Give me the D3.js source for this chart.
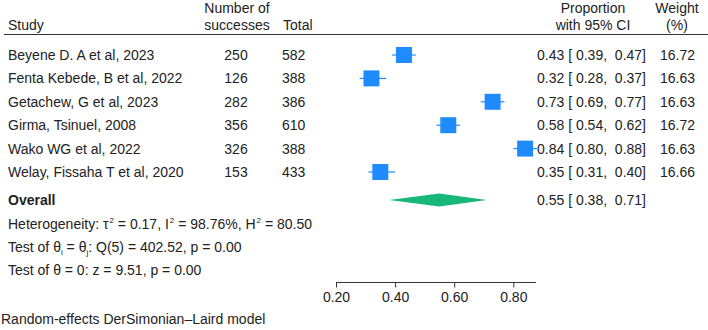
<!DOCTYPE html>
<html>
<head>
<meta charset="utf-8">
<script src="https://cdn.jsdelivr.net/npm/d3@7"></script>
<style>
  body { margin: 0; background: #fff; }
  svg { display: block; font-family: "Liberation Sans", Arial, sans-serif; }
</style>
</head>
<body>
<div id="chart"></div>
<script>
// data
const studies = ["Beyene D. A et al, 2023", "Fenta Kebede, B et al, 2022", "Getachew, G et al, 2023",
                 "Girma, Tsinuel, 2008", "Wako WG et al, 2022", "Welay, Fissaha T et al, 2020"];
const successes = [250, 126, 282, 356, 326, 153];
const totals = [582, 388, 386, 610, 388, 433];
const props = [0.43, 0.32, 0.73, 0.58, 0.84, 0.35];
const lower = [0.39, 0.28, 0.69, 0.54, 0.80, 0.31];
const upper = [0.47, 0.37, 0.77, 0.62, 0.88, 0.40];
const weights = [16.72, 16.63, 16.63, 16.72, 16.63, 16.66];
const overall = {est: 0.55, lo: 0.38, hi: 0.71};
const ticks = [0.2, 0.4, 0.6, 0.8];

const width = 708, height = 330;
const fontSize = 14;
const textColor = "#222";
const boxColor = "#1e8bff";
const diamondColor = "#17b67a";

const svg = d3.select("#chart").append("svg")
    .attr("width", width)
    .attr("height", height)
    .attr("font-size", fontSize)
    .attr("fill", textColor);

// scales
const x = d3.scaleLinear().domain([0.2, 0.8]).range([336, 513.3]);
const y = d3.scaleLinear().domain([0, studies.length - 1]).range([55, 172]);
const size = d3.scaleSqrt().domain([0, d3.max(weights)]).range([0, 16]);

// header
const header = svg.append("g");
header.append("text").attr("x", 8).attr("y", 30).text("Study");
header.append("text").attr("x", 237).attr("y", 12.5).attr("text-anchor", "middle").text("Number of");
header.append("text").attr("x", 237).attr("y", 30).attr("text-anchor", "middle").text("successes");
header.append("text").attr("x", 283).attr("y", 30).text("Total");
header.append("text").attr("x", 593).attr("y", 12.5).attr("text-anchor", "middle").text("Proportion");
header.append("text").attr("x", 593).attr("y", 30).attr("text-anchor", "middle").text("with 95% CI");
header.append("text").attr("x", 677).attr("y", 12.5).attr("text-anchor", "middle").text("Weight");
header.append("text").attr("x", 677).attr("y", 30).attr("text-anchor", "middle").text("(%)");

svg.append("line")
    .attr("x1", 4).attr("x2", width)
    .attr("y1", 34.5).attr("y2", 34.5)
    .attr("stroke", "#333").attr("stroke-width", 1.2);

// study rows
const rows = svg.append("g")
  .selectAll("g")
  .data(studies)
  .join("g")
    .attr("transform", (d, i) => `translate(0,${y(i)})`);

rows.append("text").attr("x", 8).attr("dy", 5).text(d => d);
rows.append("text").attr("x", 236).attr("dy", 5).attr("text-anchor", "middle")
    .text((d, i) => successes[i]);
rows.append("text").attr("x", 282).attr("dy", 5).text((d, i) => totals[i]);
rows.append("text").attr("x", 646).attr("dy", 5).attr("text-anchor", "end")
    .style("white-space", "pre")
    .text((d, i) => `${props[i].toFixed(2)} [ ${lower[i].toFixed(2)},  ${upper[i].toFixed(2)}]`);
rows.append("text").attr("x", 695).attr("dy", 5).attr("text-anchor", "end")
    .text((d, i) => weights[i].toFixed(2));

// CI lines and boxes
rows.append("line")
    .attr("x1", (d, i) => x(lower[i]))
    .attr("x2", (d, i) => x(upper[i]))
    .attr("stroke", boxColor).attr("stroke-width", 1.2);
rows.append("rect")
    .attr("x", (d, i) => x(props[i]) - size(weights[i]) / 2)
    .attr("y", (d, i) => -size(weights[i]) / 2)
    .attr("width", (d, i) => size(weights[i]))
    .attr("height", (d, i) => size(weights[i]))
    .attr("fill", boxColor);

// overall
const yOverall = 200;
svg.append("text").attr("x", 8).attr("y", yOverall + 5)
    .attr("font-weight", "bold").text("Overall");
svg.append("path")
    .attr("d", `M${x(overall.lo)},${yOverall} L${x(overall.est)},${yOverall - 6.5} L${x(overall.hi)},${yOverall} L${x(overall.est)},${yOverall + 6.5} Z`)
    .attr("fill", diamondColor);
svg.append("text").attr("x", 646).attr("y", yOverall + 5).attr("text-anchor", "end")
    .style("white-space", "pre")
    .text(`${overall.est.toFixed(2)} [ ${overall.lo.toFixed(2)},  ${overall.hi.toFixed(2)}]`);

// heterogeneity lines
const sup = 6, sub = 3;
const het = svg.append("text").attr("x", 8).attr("y", 229).style("white-space", "pre");
het.append("tspan").text("Heterogeneity: τ");
het.append("tspan").attr("font-size", 8).attr("dx", 1).attr("dy", -sup).text("2");
het.append("tspan").attr("dy", sup).text(" = 0.17, I");
het.append("tspan").attr("font-size", 8).attr("dx", 1).attr("dy", -sup).text("2");
het.append("tspan").attr("dy", sup).text(" = 98.76%, H");
het.append("tspan").attr("font-size", 8).attr("dx", 1).attr("dy", -sup).text("2");
het.append("tspan").attr("dy", sup).text(" = 80.50");

const q = svg.append("text").attr("x", 8).attr("y", 252);
q.append("tspan").text("Test of θ");
q.append("tspan").attr("font-size", 8).attr("dy", sub).text("i");
q.append("tspan").attr("dy", -sub).text(" = θ");
q.append("tspan").attr("font-size", 8).attr("dy", sub).text("j");
q.append("tspan").attr("dy", -sub).text(": Q(5) = 402.52, p = 0.00");

svg.append("text").attr("x", 8).attr("y", 275)
    .text("Test of θ = 0: z = 9.51, p = 0.00");

// axis
const axisY = 282.5;
const axis = svg.append("g")
    .attr("transform", `translate(0,${axisY})`)
    .call(d3.axisBottom(x).tickValues(ticks).tickFormat(d3.format(".2f")).tickSizeOuter(0).tickSize(5))
    .call(g => g.select(".domain").remove());
axis.selectAll("text")
    .attr("font-size", fontSize)
    .attr("font-family", "Liberation Sans, Arial, sans-serif")
    .attr("fill", textColor)
    .attr("dy", "0.85em");
axis.selectAll(".tick line").attr("stroke", "#333");
axis.append("line")
    .attr("x1", x(0.2)).attr("x2", x(d3.max(upper)) - 1)
    .attr("stroke", "#333");

svg.append("text").attr("x", 1).attr("y", 324)
    .text("Random-effects DerSimonian–Laird model");
</script>
</body>
</html>
